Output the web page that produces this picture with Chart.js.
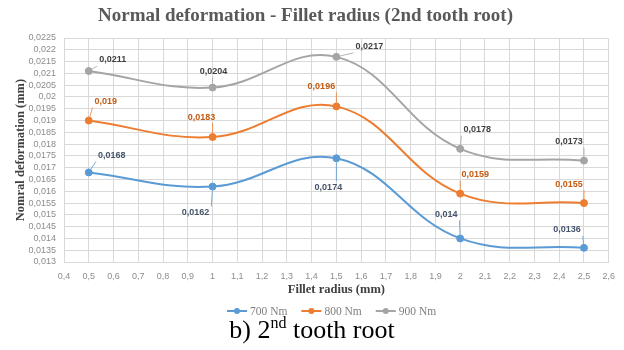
<!DOCTYPE html>
<html>
<head>
<meta charset="utf-8">
<script src="https://cdn.jsdelivr.net/npm/chart.js@4.4.0/dist/chart.umd.min.js"></script>
<style>
  html, body { margin: 0; padding: 0; background: #ffffff; }
  #wrap { position: relative; width: 624px; height: 350px; overflow: hidden; }
  #c { position: absolute; left: 0; top: 0; }
  #caption {
    position: absolute; left: 0; top: 317px; width: 624px;
    text-align: center; font-family: "Liberation Serif", serif;
    font-size: 26px; line-height: 26px; color: #000000;
  }
  #caption .sup { font-size: 16px; line-height: 0; vertical-align: 10px; }
</style>
</head>
<body>
<div id="wrap">
  <canvas id="c" width="624" height="350"></canvas>
  <div id="caption">b) 2<span class="sup">nd</span> tooth root</div>
</div>
<script>
// Fillet radius (mm) and normal deformation (mm) at the 2nd tooth root
const fillet = [0.5, 1, 1.5, 2, 2.5];
const def700 = [0.0168, 0.0162, 0.0174, 0.014, 0.0136];
const def800 = [0.019, 0.0183, 0.0196, 0.0159, 0.0155];
const def900 = [0.0211, 0.0204, 0.0217, 0.0178, 0.0173];
const seriesNames = ['700 Nm', '800 Nm', '900 Nm'];

// Axis ranges and tick steps
const xRange = [0.4, 2.6];
const xStep = 0.1;
const yRange = [0.013, 0.0225];
const yStep = 0.0005;

// Styling
const lineColors = ['#5b9bd5', '#ed7d31', '#a5a5a5'];
const labelColors = ['#44546a', '#c55a11', '#404040'];
// Value-label placement relative to each point (px)
const labelOffsets = [
  [[23, -17], [-17, 26], [-8, 29], [-14, -24], [-17, -18]],
  [[17, -19], [-11, -20], [-15, -20], [15, -19], [-15, -19]],
  [[24, -11], [1, -16], [33, -10], [17, -19], [-15, -19]]
];

const comma = v => String(v).replace('.', ',');
const X_AXIS_H = 35.2;

function series(values) {
  return fillet.map((x, i) => ({ x: x, y: values[i] }));
}

const valueLabels = {
  id: 'valueLabels',
  afterDatasetsDraw(chart) {
    const ctx = chart.ctx;
    ctx.save();
    ctx.font = 'bold 9px "Liberation Sans", sans-serif';
    ctx.textAlign = 'center';
    ctx.textBaseline = 'middle';
    chart.data.datasets.forEach((ds, di) => {
      const meta = chart.getDatasetMeta(di);
      meta.data.forEach((el, i) => {
        const text = comma(ds.data[i].y);
        const off = labelOffsets[di][i];
        const cx = el.x + off[0], cy = el.y + off[1];
        const w = ctx.measureText(text).width;
        const x0 = cx - w / 2 - 2, x1 = cx + w / 2 + 2;
        const y0 = cy - 6, y1 = cy + 6;
        // leader line to the nearest edge of the label box
        const nx = Math.min(Math.max(el.x, x0), x1);
        const ny = Math.min(Math.max(el.y, y0), y1);
        const dx = nx - el.x, dy = ny - el.y;
        const d = Math.hypot(dx, dy);
        if (d > 7) {
          ctx.strokeStyle = lineColors[di];
          ctx.globalAlpha = 0.8;
          ctx.lineWidth = 1;
          ctx.beginPath();
          ctx.moveTo(el.x + dx / d * 4, el.y + dy / d * 4);
          ctx.lineTo(nx, ny);
          ctx.stroke();
          ctx.globalAlpha = 1;
        }
        ctx.fillStyle = labelColors[di];
        ctx.fillText(text, cx, cy);
      });
    });
    ctx.restore();
  }
};

const lineLegend = {
  id: 'lineLegend',
  afterDraw(chart) {
    const ctx = chart.ctx;
    ctx.save();
    ctx.font = '11.5px "Liberation Serif", serif';
    ctx.textBaseline = 'middle';
    ctx.textAlign = 'left';
    const y = 311;
    let x = 227;
    chart.data.datasets.forEach((ds, di) => {
      ctx.strokeStyle = ds.borderColor;
      ctx.lineWidth = 2;
      ctx.beginPath();
      ctx.moveTo(x, y);
      ctx.lineTo(x + 20, y);
      ctx.stroke();
      ctx.fillStyle = ds.borderColor;
      ctx.beginPath();
      ctx.arc(x + 10, y, 3, 0, Math.PI * 2);
      ctx.fill();
      ctx.fillStyle = '#7f7f7f';
      ctx.fillText(ds.label, x + 23, y + 0.5);
      x += 23 + ctx.measureText(ds.label).width + 14;
    });
    ctx.restore();
  }
};

const datasets = [def700, def800, def900].map((vals, i) => ({
  label: seriesNames[i],
  data: series(vals),
  borderColor: lineColors[i],
  backgroundColor: lineColors[i],
  pointBackgroundColor: lineColors[i],
  pointBorderColor: lineColors[i],
  pointBorderWidth: 1,
  pointRadius: 3.5,
  borderWidth: 2,
  tension: 0.4,
  fill: false
}));

new Chart(document.getElementById('c'), {
  type: 'line',
  data: { datasets: datasets },
  options: {
    responsive: false,
    animation: false,
    layout: { padding: { left: 0, right: 13, top: 0, bottom: 350 - 262 - X_AXIS_H } },
    plugins: {
      legend: { display: false },
      tooltip: { enabled: false },
      title: {
        display: true,
        text: 'Normal deformation - Fillet radius (2nd tooth root)',
        color: '#595959',
        font: { family: '"Liberation Serif", serif', size: 19, weight: 'bold', lineHeight: 1.2 },
        padding: { top: 5, bottom: 10.2 }
      }
    },
    scales: {
      x: {
        type: 'linear',
        min: xRange[0],
        max: xRange[1],
        afterFit: s => { s.height = X_AXIS_H; },
        grid: { color: '#d9d9d9', drawTicks: false },
        border: { color: '#d9d9d9' },
        ticks: {
          stepSize: xStep,
          autoSkip: false,
          maxRotation: 0,
          padding: 9,
          color: '#8c8c8c',
          font: { family: '"Liberation Sans", sans-serif', size: 9 },
          callback: v => comma(parseFloat(v.toFixed(1)))
        },
        title: {
          display: true,
          text: 'Fillet radius (mm)',
          color: '#404040',
          font: { family: '"Liberation Serif", serif', size: 12.5, weight: 'bold' },
          padding: { top: 0, bottom: 0 }
        }
      },
      y: {
        min: yRange[0],
        max: yRange[1],
        afterFit: s => { s.width = 64; },
        grid: { color: '#d9d9d9', drawTicks: false },
        border: { color: '#d9d9d9' },
        ticks: {
          stepSize: yStep,
          autoSkip: false,
          padding: 8,
          color: '#8c8c8c',
          font: { family: '"Liberation Sans", sans-serif', size: 9 },
          callback: v => comma(parseFloat(v.toFixed(4)))
        },
        title: {
          display: true,
          text: 'Nomral deformation (mm)',
          color: '#404040',
          font: { family: '"Liberation Serif", serif', size: 12.5, weight: 'bold' },
          padding: { top: 13, bottom: 0 }
        }
      }
    }
  },
  plugins: [valueLabels, lineLegend]
});
</script>
</body>
</html>
